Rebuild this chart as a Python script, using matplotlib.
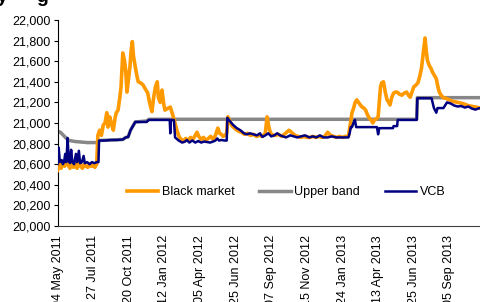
import matplotlib
matplotlib.use("Agg")
import matplotlib.pyplot as plt

plt.rcParams['font.family'] = ['Liberation Sans', 'DejaVu Sans']

# trading-day index of each reading, and the rate (VND/USD)
bm_idx = [0, 3, 6, 9, 12, 15, 18, 21, 24, 27, 30, 33, 36, 39, 42, 45, 48, 51, 54, 57,
          60, 63, 66, 68, 71, 74, 77, 80, 83, 85, 88, 91, 94, 97, 99, 102, 105, 107, 110, 113,
          115, 117, 120, 122, 124, 126, 128, 131, 134, 136, 140, 144, 148, 152, 155, 159, 162, 165, 168, 170,
          173, 176, 179, 181, 185, 190, 193, 195, 198, 201, 204, 206, 209, 212, 216, 220, 224, 228, 232, 235,
          238, 242, 246, 250, 254, 258, 262, 266, 270, 273, 276, 279, 282, 285, 287, 290, 293, 296, 300, 305,
          310, 315, 320, 325, 330, 335, 340, 345, 350, 353, 356, 359, 363, 367, 372, 378, 384, 390, 394, 400,
          405, 410, 415, 420, 425, 430, 435, 440, 445, 450, 455, 460, 465, 470, 475, 480, 485, 490, 492, 494,
          496, 499, 501, 504, 507, 510, 513, 516, 519, 522, 525, 528, 531, 534, 537, 540, 542, 544, 546, 549,
          552, 555, 558, 560, 563, 566, 569, 572, 576, 580, 584, 588, 591, 594, 597, 600, 604, 607, 610, 613,
          616, 618, 619, 621, 623, 626, 629, 632, 635, 638, 640, 643, 646, 650, 654, 658, 662, 666, 670, 674,
          678, 682, 687, 691, 695, 700, 704, 708, 712]
bm_val = [20540, 20600, 20560, 20620, 20580, 20650, 20590, 20560, 20610, 20570, 20600, 20560, 20640, 20580, 20560, 20600, 20580, 20570, 20600, 20580,
          20590, 20570, 20600, 20880, 20930, 20880, 20980, 21000, 21100, 20960, 21060, 20990, 20930, 21050, 21100, 21125, 21250, 21350, 21680, 21600,
          21500, 21300, 21450, 21545, 21700, 21790, 21650, 21545, 21450, 21400, 21390, 21370, 21330, 21290, 21200, 21110, 21250, 21350, 21400, 21245,
          21200, 21320, 21180, 21125, 21140, 21155, 21100, 21060, 21000, 20930, 20880, 20855, 20840, 20820, 20850, 20830, 20860, 20840, 20880, 20910,
          20870, 20840, 20860, 20830, 20850, 20870, 20840, 20880, 20950, 20900, 20890, 20870, 20880, 20900, 21060, 21020, 20980, 20960, 20940, 20920,
          20910, 20890, 20900, 20880, 20890, 20870, 20880, 20870, 20900, 21060, 20960, 20900, 20880, 20880, 20890, 20870, 20900, 20930, 20910, 20880,
          20870, 20860, 20870, 20860, 20860, 20870, 20860, 20870, 20860, 20870, 20910, 20880, 20870, 20860, 20870, 20860, 20870, 20870, 20950, 21020,
          21100, 21150, 21195, 21225, 21200, 21175, 21155, 21145, 21125, 21080, 21050, 21030, 21000, 21030, 21040, 21060, 21200, 21350, 21390, 21400,
          21300, 21225, 21200, 21175, 21250, 21290, 21300, 21300, 21280, 21270, 21290, 21300, 21270, 21250, 21300, 21350, 21370, 21390, 21450, 21530,
          21680, 21780, 21825, 21700, 21610, 21560, 21530, 21490, 21460, 21430, 21370, 21300, 21270, 21245, 21240, 21230, 21220, 21210, 21205, 21200,
          21195, 21190, 21180, 21170, 21165, 21160, 21155, 21150, 21145]

ub_idx = [0, 5, 10, 15, 20, 30, 40, 50, 60, 68, 70, 110, 115, 119, 123, 128, 131, 150, 154, 605, 606, 720]
ub_val = [20920, 20910, 20880, 20850, 20830, 20820, 20815, 20810, 20810, 20810, 20830, 20840, 20860, 20865, 20930, 20980, 21010, 21020, 21036, 21036, 21246, 21246]

vcb_idx = [0, 2, 4, 7, 9, 11, 13, 15, 17, 19, 21, 23, 25, 28, 31, 33, 36, 38, 41, 44,
           46, 50, 54, 58, 62, 66, 69, 70, 80, 90, 100, 110, 115, 119, 123, 128, 131, 140, 150, 154,
           175, 189, 190, 191, 196, 198, 204, 210, 215, 218, 222, 227, 232, 237, 242, 247, 252, 257, 262, 266,
           269, 272, 276, 281, 285, 286, 290, 296, 302, 308, 314, 319, 324, 330, 336, 341, 345, 350, 355, 360,
           365, 370, 375, 380, 385, 392, 398, 404, 410, 417, 424, 430, 436, 442, 448, 455, 462, 470, 478, 486,
           490, 492, 494, 496, 499, 501, 503, 510, 520, 530, 538, 540, 542, 550, 560, 565, 566, 572, 573, 590,
           605, 606, 630, 634, 638, 640, 650, 656, 662, 668, 674, 680, 686, 692, 698, 704, 708, 712]
vcb_val = [20600, 20760, 20620, 20640, 20600, 20620, 20700, 20620, 20855, 20640, 20610, 20740, 20620, 20600, 20700, 20620, 20730, 20610, 20620, 20680,
           20610, 20620, 20600, 20620, 20610, 20620, 20620, 20830, 20830, 20835, 20835, 20840, 20860, 20865, 20930, 20980, 21010, 21010, 21010, 21030,
           21030, 21030, 20900, 21030, 21030, 20860, 20830, 20810, 20820, 20835, 20810, 20830, 20810, 20825, 20810, 20820, 20815, 20810, 20820, 20830,
           20850, 20830, 20835, 20830, 20830, 21050, 21020, 20980, 20950, 20930, 20900, 20890, 20900, 20890, 20880, 20900, 20865, 20880, 20900, 20870,
           20880, 20900, 20880, 20870, 20860, 20880, 20870, 20860, 20870, 20880, 20860, 20870, 20860, 20880, 20860, 20860, 20870, 20860, 20860, 20860,
           20860, 20900, 20960, 20960, 21010, 21030, 20960, 20960, 20960, 20960, 20960, 20890, 20950, 20950, 20950, 20950, 20970, 20970, 21030, 21030,
           21030, 21240, 21240, 21145, 21100, 21145, 21145, 21200, 21190, 21170, 21160, 21165, 21150, 21160, 21140, 21130, 21140, 21145]

tick_idx = [0, 60, 120, 180, 240, 300, 360, 420, 480, 540, 600, 660]
tick_lbl = ['04 May 2011', '27 Jul 2011', '20 Oct 2011', '12 Jan 2012', '05 Apr 2012', '25 Jun 2012',
            '07 Sep 2012', '15 Nov 2012', '24 Jan 2013', '13 Apr 2013', '25 Jun 2013', '05 Sep 2013']
y_ticks = list(range(20000, 22001, 200))

fig = plt.figure(figsize=(4.8, 3.02), dpi=100)
ax = fig.add_axes([57.5 / 480, 76 / 302, 427.5 / 480, 206 / 302])

ax.plot(ub_idx, ub_val, color='#878787', lw=2.5, label='Upper band', zorder=2)
ax.plot(bm_idx, bm_val, color='#FF9900', lw=2.6, label='Black market', zorder=3)
ax.plot(vcb_idx, vcb_val, color='#000080', lw=1.8, label='VCB', zorder=4)

ax.set_xlim(0, 720)
ax.set_ylim(20000, 22000)
ax.set_yticks(y_ticks)
ax.set_yticklabels([f'{v:,}' for v in y_ticks])
ax.set_xticks(tick_idx)
ax.set_xticklabels(tick_lbl, rotation=90, va='top', ha='center')
ax.tick_params(axis='x', length=0, pad=6.5, labelsize=9)
ax.tick_params(axis='y', length=3, width=0.8, pad=2, labelsize=9)
for s in ['top', 'right']:
    ax.spines[s].set_visible(False)
ax.spines['left'].set_linewidth(0.8)
ax.spines['bottom'].set_linewidth(0.8)
ax.spines['bottom'].set_color('#404040')

handles, labels = ax.get_legend_handles_labels()
order = [1, 0, 2]
ax.legend([handles[i] for i in order], [labels[i] for i in order], ncol=3, frameon=False,
          loc='center', bbox_to_anchor=(0.535, 0.165), fontsize=9,
          handlelength=2.5, handletextpad=0.3, columnspacing=2.0)

# cut-off title fragments at the top edge
fig.text(-3 / 480, 1 - 2 / 302, 'y', fontsize=14, fontweight='bold', va='baseline')
fig.text(36 / 480, 1 - 2 / 302, 'g', fontsize=14, fontweight='bold', va='baseline')

fig.savefig('out.png', dpi=100)
